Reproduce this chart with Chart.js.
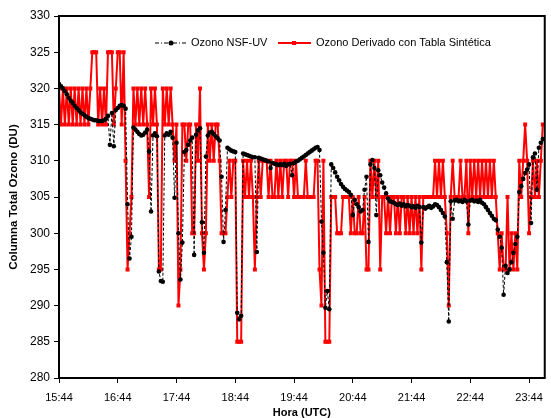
<!DOCTYPE html>
<html lang="es">
<head>
<meta charset="utf-8">
<title>Columna Total Ozono</title>
<script src="https://cdn.jsdelivr.net/npm/chart.js@4.4.1/dist/chart.umd.min.js"></script>
<style>
  html, body { margin: 0; padding: 0; background: #fff; overflow: hidden; }
  #contenedor { position: relative; width: 551px; height: 426px; }
</style>
</head>
<body>
<div id="contenedor"><canvas id="graficaOzono"></canvas></div>
<script>
// Etiquetas del eje de tiempo (una por hora, hora UTC)
const horasEtiquetas = ['15:44', '16:44', '17:44', '18:44', '19:44', '20:44', '21:44', '22:44', '23:44'];
const inicioMin = 0;     // 15:44
const finMin = 496;      // 24:00
const intervaloMin = 2;  // una medida cada 2 minutos

// Ozono NSF-UV (DU)
const ozonoNSF = [
  320.6, 320.3, 320.0, 319.6, 319.2, 318.7, 318.3, 318.0, 317.6, 317.3,
  317.0, 316.7, 316.5, 316.3, 316.1, 315.9, 315.8, 315.7, 315.6, 315.6,
  315.5, 315.5, 315.5, 315.6, 315.8, 316.2, 312.2, 316.6, 312.0, 317.0,
  317.3, 317.6, 317.7, 317.6, 317.2, 304.0, 296.5, 299.5, 314.6, 314.3,
  314.0, 313.7, 313.5, 313.6, 313.9, 314.3, 311.3, 303.0, 313.5, 313.8,
  313.4, 294.7, 293.4, 293.3, 313.5, 313.8, 313.6, 314.0, 313.2, 304.9,
  312.5, 300.0, 293.6, 298.7, 311.2, 311.5, 312.2, 312.8, 313.2, 297.0,
  313.6, 314.2, 314.5, 301.5, 297.3, 310.6, 313.5, 313.9, 314.0, 313.7,
  313.4, 313.1, 312.8, 307.8, 298.8, 303.2, 311.8, 311.6, 311.4, 311.3,
  311.2, 289.0, 288.1, 288.6, 311.0, 310.9, 310.8, 310.7, 310.6, 310.5,
  310.5, 297.4, 310.4, 310.3, 310.2, 310.1, 310.0, 309.9, 309.0, 309.7,
  309.6, 309.5, 309.4, 309.5, 309.4, 309.6, 309.3, 309.5, 309.6, 308.0,
  309.7, 309.9, 310.0, 310.2, 310.4, 310.6, 310.8, 311.0, 311.2, 311.4,
  311.6, 311.8, 311.9, 311.5, 301.6, 297.3, 289.7, 292.0, 289.5, 309.5,
  309.0, 308.4, 307.8, 307.3, 306.8, 306.4, 306.1, 305.9, 305.7, 305.3,
  302.5, 304.6, 304.0, 303.6, 303.0, 303.2, 306.0, 307.8, 298.8, 309.5,
  310.1, 309.0, 302.5, 308.7, 308.0, 307.0, 306.3, 305.5, 304.8, 304.4,
  304.3, 304.2, 304.0, 303.9, 304.1, 303.8, 304.0, 303.7, 303.9, 303.8,
  303.6, 303.7, 303.5, 303.8, 303.6, 298.7, 303.6, 303.4, 303.6, 303.8,
  303.5, 303.7, 304.0, 303.9, 303.6, 303.2, 302.8, 302.3, 296.0, 287.8,
  304.4, 302.0, 304.5, 304.6, 304.4, 304.5, 304.3, 304.6, 304.4, 301.2,
  304.5, 304.6, 304.4, 304.5, 304.3, 304.6, 304.2, 304.0, 303.6, 303.2,
  302.8, 302.4, 302.0, 301.8, 300.5, 299.5, 298.0, 291.5, 295.5, 294.5,
  295.0, 296.0, 297.3, 298.5, 299.5, 305.7, 306.5, 307.5, 308.3, 308.8,
  309.5, 301.4, 310.5, 311.0, 306.0, 311.8, 312.5, 313.0
];

// Ozono derivado con tabla sintetica (DU), valores escalonados de 5 en 5
const ozonoDerivado = [
  320, 315, 320, 315, 320, 315, 320, 315, 320, 315,
  320, 315, 320, 315, 320, 315, 320, 325, 325, 325,
  315, 320, 315, 320, 315, 325, 325, 325, 315, 320,
  325, 325, 315, 325, 310, 295, 300, 305, 320, 315,
  320, 315, 320, 315, 320, 315, 305, 320, 315, 320,
  315, 295, 295, 320, 315, 320, 315, 320, 315, 310,
  315, 290, 295, 315, 315, 310, 315, 315, 300, 300,
  315, 310, 320, 300, 295, 300, 315, 310, 315, 310,
  315, 315, 310, 300, 300, 300, 305, 310, 305, 310,
  310, 285, 285, 285, 310, 305, 310, 305, 310, 305,
  295, 305, 310, 305, 310, 310, 310, 305, 310, 305,
  305, 310, 305, 310, 305, 310, 310, 305, 310, 310,
  305, 310, 305, 305, 305, 305, 310, 305, 305, 305,
  305, 310, 310, 295, 290, 310, 285, 285, 285, 305,
  305, 305, 300, 300, 300, 305, 305, 305, 305, 300,
  305, 300, 300, 305, 300, 300, 305, 295, 295, 310,
  305, 310, 305, 310, 295, 305, 305, 300, 305, 300,
  305, 305, 300, 305, 300, 305, 305, 300, 305, 300,
  305, 300, 305, 300, 305, 295, 305, 305, 305, 305,
  305, 305, 310, 305, 310, 305, 310, 305, 300, 290,
  305, 310, 305, 305, 305, 310, 305, 305, 310, 300,
  310, 305, 310, 305, 310, 305, 310, 305, 310, 305,
  310, 305, 310, 305, 300, 295, 300, 295, 295, 305,
  295, 300, 295, 300, 295, 310, 305, 310, 315, 310,
  300, 305, 310, 305, 310, 305, 310, 315
];

const puntosNSF = ozonoNSF.map((v, i) => ({ x: i * intervaloMin, y: v }));
const puntosDerivado = ozonoDerivado.map((v, i) => ({ x: i * intervaloMin, y: v }));

const fuente = "'Liberation Sans', Arial, sans-serif";

// Leyenda dentro del area de la grafica (como en Excel)
const leyendaInterna = {
  id: 'leyendaInterna',
  afterDraw(chart) {
    const ctx = chart.ctx;
    const a = chart.chartArea;
    const y = a.top + 27;
    ctx.save();
    // serie NSF-UV: linea raya-punto negra con marcador
    ctx.strokeStyle = '#000';
    ctx.lineWidth = 1;
    ctx.setLineDash([4, 2, 1, 2]);
    ctx.beginPath();
    ctx.moveTo(a.left + 96, y);
    ctx.lineTo(a.left + 129, y);
    ctx.stroke();
    ctx.setLineDash([]);
    ctx.fillStyle = '#000';
    ctx.beginPath();
    ctx.arc(a.left + 112, y, 2.5, 0, Math.PI * 2);
    ctx.fill();
    ctx.font = '11px ' + fuente;
    ctx.textBaseline = 'middle';
    ctx.textAlign = 'left';
    ctx.fillText(chart.data.datasets[0].label, a.left + 132, y);
    // serie derivada: linea roja continua
    ctx.strokeStyle = '#ff0000';
    ctx.lineWidth = 2;
    ctx.beginPath();
    ctx.moveTo(a.left + 219, y);
    ctx.lineTo(a.left + 252, y);
    ctx.stroke();
    ctx.fillStyle = '#ff0000';
    ctx.fillRect(a.left + 233, y - 2, 4, 4);
    ctx.fillStyle = '#000';
    ctx.fillText(chart.data.datasets[1].label, a.left + 257, y);
    ctx.restore();
  }
};

// Marco negro alrededor del area de trazado
const marcoGrafica = {
  id: 'marcoGrafica',
  afterDraw(chart) {
    const { ctx, chartArea: a } = chart;
    ctx.save();
    ctx.strokeStyle = '#000';
    ctx.lineWidth = 2;
    ctx.strokeRect(a.left, a.top, a.right - a.left, a.bottom - a.top);
    ctx.restore();
  }
};

const ctx = document.getElementById('graficaOzono').getContext('2d');
new Chart(ctx, {
  type: 'line',
  data: {
    datasets: [
      {
        label: 'Ozono NSF-UV',
        data: puntosNSF,
        borderColor: '#000',
        borderWidth: 1,
        borderDash: [3, 2],
        backgroundColor: '#000',
        pointStyle: 'circle',
        pointRadius: 2.3,
        pointBorderWidth: 0,
        tension: 0
      },
      {
        label: 'Ozono Derivado con Tabla Sintética',
        data: puntosDerivado,
        borderColor: '#ff0000',
        borderWidth: 2,
        backgroundColor: '#ff0000',
        pointStyle: 'rect',
        pointRadius: 2.8,
        pointBorderWidth: 0,
        tension: 0
      }
    ]
  },
  options: {
    responsive: true,
    maintainAspectRatio: false,
    animation: false,
    events: [],
    layout: { padding: { top: 16, right: 5, left: 0, bottom: 0 } },
    plugins: {
      legend: { display: false },
      tooltip: { enabled: false }
    },
    scales: {
      x: {
        type: 'linear',
        min: inicioMin,
        max: finMin,
        afterFit: (s) => { s.height = 48; },
        ticks: {
          stepSize: 60,
          includeBounds: false,
          autoSkip: false,
          maxRotation: 0,
          padding: 8,
          color: '#000',
          font: { family: fuente, size: 11 },
          callback: (v) => horasEtiquetas[Math.round(v / 60)]
        },
        grid: { display: true, drawOnChartArea: false, tickLength: 5, color: '#000' },
        border: { display: false },
        title: {
          display: true,
          text: 'Hora (UTC)',
          color: '#000',
          font: { family: fuente, size: 11, weight: 'bold' },
          padding: { top: 0, bottom: 6 }
        }
      },
      y: {
        min: 280,
        max: 330,
        afterFit: (s) => { s.width = 59; },
        ticks: {
          stepSize: 5,
          padding: 4,
          color: '#000',
          font: { family: fuente, size: 12 }
        },
        grid: { display: true, drawOnChartArea: false, tickLength: 5, color: '#000' },
        border: { display: false },
        title: {
          display: true,
          text: 'Columna Total Ozono (DU)',
          color: '#000',
          font: { family: fuente, size: 11.5, weight: 'bold' },
          padding: { top: 7, bottom: 0 }
        }
      }
    }
  },
  plugins: [leyendaInterna, marcoGrafica]
});
</script>
</body>
</html>
